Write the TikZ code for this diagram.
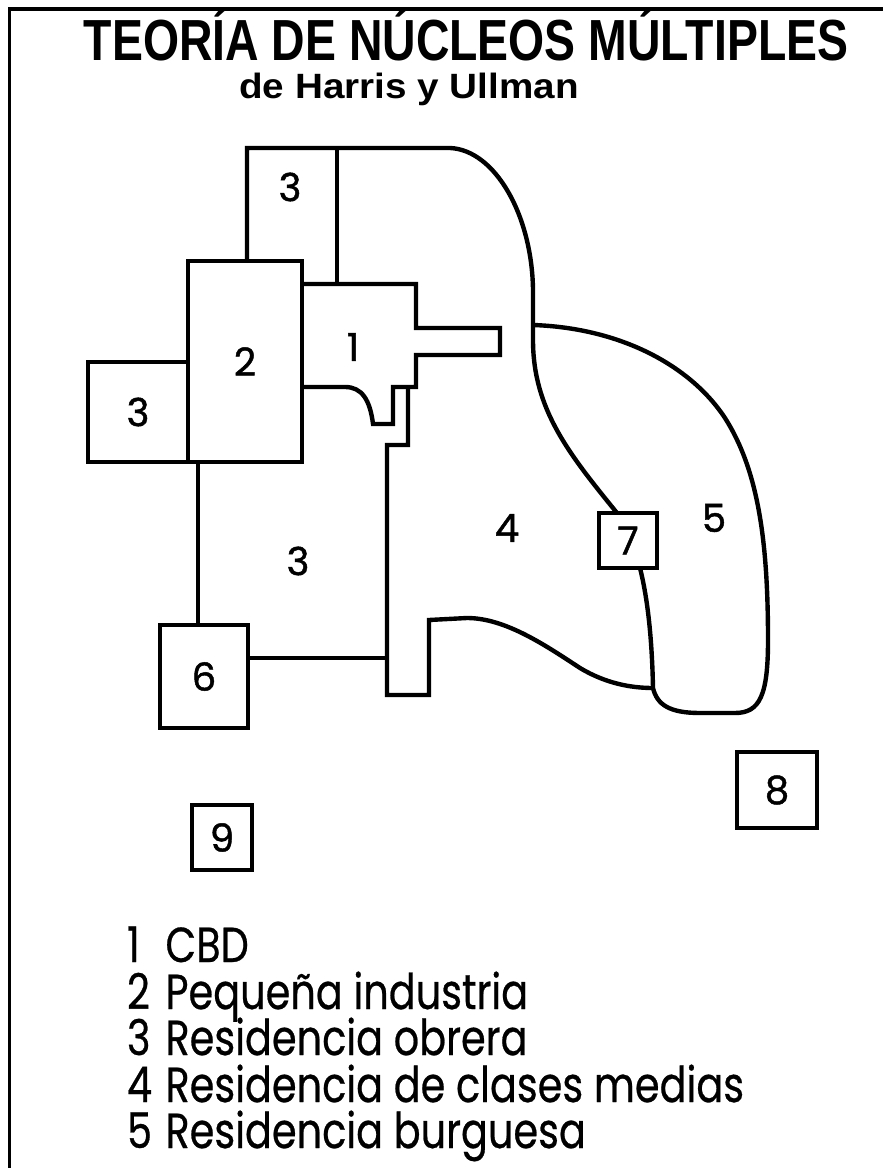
\documentclass[tikz,border=0pt]{standalone}
\usepackage{fontspec}
\setmainfont{Liberation Sans}
\newfontfamily\legendfont[FakeBold=0.6]{Poppins}
\newfontfamily\zonefont[FakeBold=1.2]{Poppins}
\usetikzlibrary{calc}

\begin{document}
\begin{tikzpicture}[x=0.02cm, y=-0.02cm,
    every node/.style={inner sep=0pt, outer sep=0pt},
    edge/.style={line width=2.5pt},
    zonebox/.style={draw, line width=2.5pt, fill=white, font=\zonefont\fontsize{22}{22}\selectfont},
    zonelabel/.style={font=\zonefont\fontsize{22}{22}\selectfont},
    legendrow/.style={anchor=base west, font=\legendfont\fontsize{28}{28}\selectfont}
]
    \useasboundingbox (0,0) rectangle (883,1168);

    % Frame (left and top only)
    \draw [line width=1.8pt] (9.5,1168) -- (9.5,9) -- (883,9);

    % Title
    \node (title) [anchor=base] at (466,61) {\scalebox{0.8}[1]{\fontsize{33}{33}\selectfont\bfseries TEORÍA DE NÚCLEOS MÚLTIPLES}};
    \node (subtitle) [anchor=base] at (409,99) {\scalebox{1.1}[1]{\fontsize{20}{20}\selectfont\bfseries de Harris y Ullman}};

    % Rectangular zones
    \node (n2) [zonebox, minimum width=2.28cm, minimum height=4.02cm] at (245,361.5) {2};
    \node (n3left) [zonebox, minimum width=2cm, minimum height=2cm] at (138,412) {3};
    \node (n6) [zonebox, minimum width=1.76cm, minimum height=2.06cm] at (204,676.5) {6};
    \node (n7) [zonebox, minimum width=1.16cm, minimum height=1.1cm] at (628,540.5) {7};
    \node (n8) [zonebox, minimum width=1.6cm, minimum height=1.52cm] at (777,790) {8};
    \node (n9) [zonebox, minimum width=1.2cm, minimum height=1.3cm] at (222,837.5) {9};

    % Residencia obrera (top) and border of zone 4
    \draw [edge] (n2.north -| 247,0) -- (247,148) -- (450,148)
        .. controls (495,150) and (532,215) .. (533,290) -- (533,340)
        .. controls (533,410) and (570,455) .. ([xshift=-0.22cm]n7.north);
    \draw [edge] (337,148) -- (337,284);

    % CBD
    \draw [edge] (n2.east |- 0,284) -- (416,284) -- (416,328) -- (500,328) -- (500,355)
        -- (416,355) -- (416,387) -- (393,387) -- (393,424) -- (373,424)
        .. controls (370,400) and (362,387) .. (345,387) -- (n2.east |- 0,387);

    % Zone 4, left and bottom
    \draw [edge] (408,387) -- (408,445) -- (387,445) -- (387,695) -- (429,695) -- (429,620)
        -- (467,618) .. controls (505,618) and (545,645) .. (580,668)
        .. controls (605,683) and (630,688) .. (653,688);

    % Zone 5
    \draw [edge] ([xshift=0.24cm]n7.south) .. controls (648,600) and (652,640) .. (653,688)
        .. controls (657,705) and (670,713) .. (700,713) -- (735,713)
        .. controls (760,713) and (768,695) .. (768,640)
        .. controls (768,540) and (758,470) .. (725,418)
        .. controls (690,365) and (620,328) .. (533,325);

    % Residencia obrera (bottom)
    \draw [edge] ([xshift=-0.12cm]n6.north) -- ([xshift=-0.12cm]n6.north |- n2.south);
    \draw [edge] ([yshift=0.37cm]n6.east) -- +(139,0);

    % Zone numbers
    \node (num3top) [zonelabel] at (290,187) {3};
    \node (num1) [zonelabel] at (353,347) {1};
    \node (num4) [zonelabel] at (507,528) {4};
    \node (num5) [zonelabel] at (714,518) {5};
    \node (num3bot) [zonelabel] at (298,561) {3};

    % Legend
    \node (leg1) [legendrow] at (127,962) {\scalebox{0.81}[1]{\makebox[0.95cm][l]{1}CBD}};
    \node (leg2) [legendrow] at (127,1009) {\scalebox{0.81}[1]{\makebox[0.95cm][l]{2}Pequeña industria}};
    \node (leg3) [legendrow] at (127,1055) {\scalebox{0.81}[1]{\makebox[0.95cm][l]{3}Residencia obrera}};
    \node (leg4) [legendrow] at (127,1102) {\scalebox{0.81}[1]{\makebox[0.95cm][l]{4}Residencia de clases medias}};
    \node (leg5) [legendrow] at (127,1148) {\scalebox{0.81}[1]{\makebox[0.95cm][l]{5}Residencia burguesa}};
\end{tikzpicture}
\end{document}
